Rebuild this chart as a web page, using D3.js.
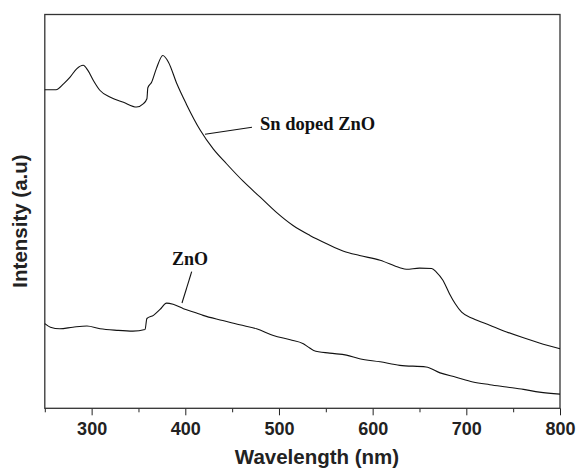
<!DOCTYPE html>
<html>
<head>
<meta charset="utf-8">
<script src="https://cdn.jsdelivr.net/npm/d3@7"></script>
<style>
  body { margin: 0; background: #fff; }
  .tick text { font-family: "Liberation Sans", Arial, sans-serif; font-weight: bold; font-size: 18px; fill: #222; }
  .domain { display: none; }
  .tick line { stroke: #222; }
</style>
</head>
<body>
<svg width="577" height="468"></svg>
<script>
// wavelength (nm) and intensity (a.u.)
var snWavelength = [250, 262, 270, 277, 284, 291, 296, 302, 309, 320, 334, 348, 355, 359, 360, 364, 369, 376, 382, 391, 401, 416, 430, 444, 462, 480, 497, 515, 533, 551, 569, 586, 608, 629, 636, 650, 663, 668, 675, 682, 688, 695, 707, 725, 743, 761, 778, 800];
var snIntensity  = [80.9, 80.9, 82.4, 84.1, 86.2, 87.1, 85.8, 83.2, 80.7, 79.0, 77.7, 76.5, 77.3, 78.6, 81.4, 82.8, 86.2, 89.6, 87.9, 82.4, 77.3, 70.6, 65.8, 62.1, 57.6, 53.6, 49.8, 46.4, 43.9, 41.8, 39.9, 38.8, 37.6, 35.7, 35.3, 35.6, 35.5, 34.6, 32.5, 29.1, 26.6, 24.4, 22.8, 21.1, 19.4, 17.9, 16.6, 15.1];

var znoWavelength = [250, 256, 266, 280, 295, 309, 327, 344, 357, 359, 366, 373, 380, 387, 398, 412, 419, 440, 458, 476, 494, 512, 526, 531, 537, 554, 572, 586, 608, 629, 657, 672, 689, 707, 725, 743, 761, 778, 800];
var znoIntensity  = [21.5, 20.6, 20.2, 20.6, 20.9, 20.2, 19.8, 19.6, 20.0, 22.8, 23.6, 25.1, 26.7, 26.4, 25.3, 24.2, 23.6, 22.3, 21.2, 20.2, 18.5, 17.4, 16.4, 15.6, 14.7, 14.0, 13.5, 12.6, 11.8, 10.9, 10.5, 9.0, 7.9, 6.7, 6.0, 5.4, 4.8, 4.1, 3.6];

var majorTicks = [300, 400, 500, 600, 700, 800];
var minorTicks = [250, 350, 450, 550, 650, 750];

var svg = d3.select("svg");
var margin = {left: 44.8, right: 560, top: 14.5, bottom: 408.3};

var x = d3.scaleLinear().domain([250, 800]).range([margin.left, margin.right]);
var y = d3.scaleLinear().domain([0, 100]).range([margin.bottom, margin.top]);

// ticks under the frame
svg.append("g")
    .attr("transform", "translate(0," + margin.bottom + ")")
    .call(d3.axisBottom(x).tickValues(minorTicks).tickSize(4).tickFormat(""));
svg.append("g")
    .attr("transform", "translate(0," + margin.bottom + ")")
    .call(d3.axisBottom(x).tickValues(majorTicks).tickSize(7).tickPadding(7).tickFormat(d3.format("d")));

// frame
svg.append("rect")
    .attr("x", margin.left).attr("y", margin.top)
    .attr("width", margin.right - margin.left)
    .attr("height", margin.bottom - margin.top)
    .attr("fill", "none").attr("stroke", "#333").attr("stroke-width", 1.3);

var line = d3.line()
    .curve(d3.curveMonotoneX)
    .x(function(d) { return x(d[0]); })
    .y(function(d) { return y(d[1]); });

svg.append("path")
    .datum(d3.zip(snWavelength, snIntensity))
    .attr("fill", "none").attr("stroke", "#111").attr("stroke-width", 1.1)
    .attr("d", line);

svg.append("path")
    .datum(d3.zip(znoWavelength, znoIntensity))
    .attr("fill", "none").attr("stroke", "#111").attr("stroke-width", 1.1)
    .attr("d", line);

// curve labels with leader lines
svg.append("line")
    .attr("x1", 252).attr("y1", 127.3).attr("x2", 205).attr("y2", 134.3)
    .attr("stroke", "#111").attr("stroke-width", 1.1);
svg.append("text")
    .attr("x", 260).attr("y", 129.5)
    .style("font-family", "'Liberation Serif', 'Times New Roman', serif")
    .style("font-weight", "bold").style("font-size", "18.5px").style("fill", "#111")
    .text("Sn doped ZnO");

svg.append("line")
    .attr("x1", 191.7).attr("y1", 271.7).attr("x2", 182).attr("y2", 303)
    .attr("stroke", "#111").attr("stroke-width", 1.1);
svg.append("text")
    .attr("x", 172).attr("y", 265)
    .style("font-family", "'Liberation Serif', 'Times New Roman', serif")
    .style("font-weight", "bold").style("font-size", "18px").style("fill", "#111")
    .text("ZnO");

// axis titles
svg.append("text")
    .attr("x", 317).attr("y", 464)
    .attr("text-anchor", "middle")
    .style("font-family", "'Liberation Sans', Arial, sans-serif")
    .style("font-weight", "bold").style("font-size", "20.5px").style("fill", "#222")
    .text("Wavelength (nm)");

svg.append("text")
    .attr("transform", "translate(27,221) rotate(-90)")
    .attr("text-anchor", "middle")
    .style("font-family", "'Liberation Sans', Arial, sans-serif")
    .style("font-weight", "bold").style("font-size", "20.5px").style("fill", "#222")
    .text("Intensity (a.u)");
</script>
</body>
</html>
